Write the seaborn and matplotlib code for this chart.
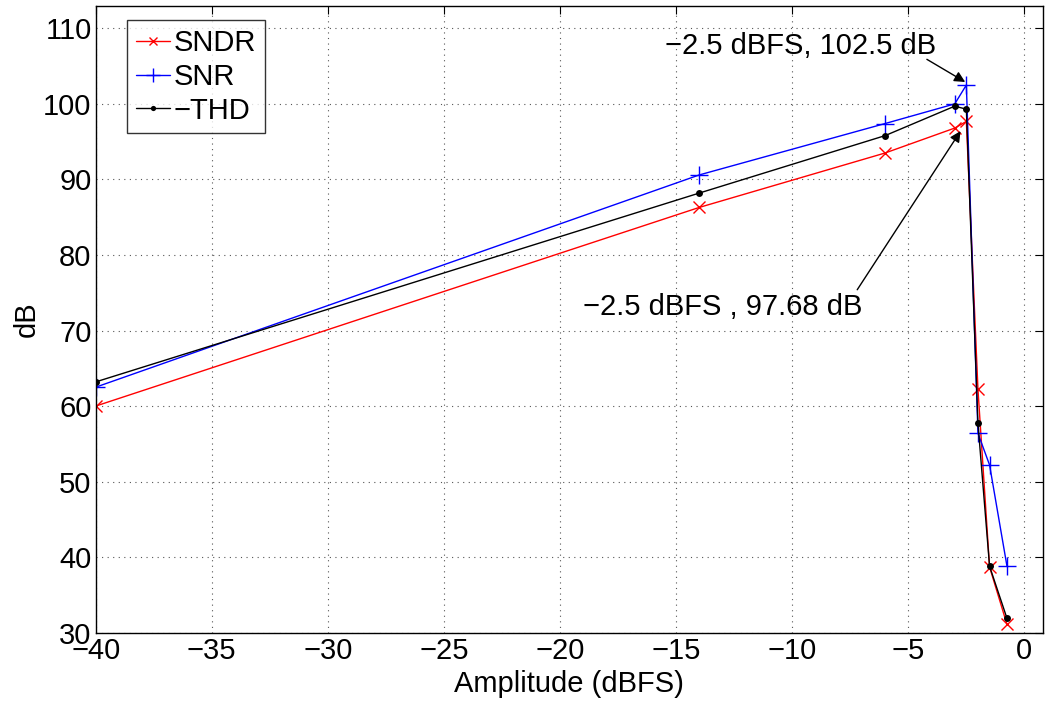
import pandas as pd
import matplotlib
matplotlib.use("Agg")
import matplotlib.pyplot as plt
import seaborn as sns

# Input amplitude (dBFS) and measured values (dB)
amplitude = [-40, -14, -6, -3, -2.5, -2, -1.5, -0.75]
sndr = [60.0, 86.3, 93.5, 96.8, 97.68, 62.2, 38.7, 31.1]
snr = [62.5, 90.6, 97.4, 100.0, 102.5, 56.4, 52.2, 38.8]
neg_thd = [63.2, 88.2, 95.8, 99.7, 99.3, 57.7, 38.8, 31.9]

x_ticks = [-40, -35, -30, -25, -20, -15, -10, -5, 0]
y_ticks = [30, 40, 50, 60, 70, 80, 90, 100, 110]

df = pd.DataFrame({"amp": amplitude, "SNDR": sndr, "SNR": snr, "THD": neg_thd})

sns.set_style("white")
plt.rcParams['font.family'] = ['Liberation Sans', 'DejaVu Sans']
plt.rcParams['text.color'] = 'black'
plt.rcParams['axes.labelcolor'] = 'black'

fig = plt.figure(figsize=(10.48, 7.02), dpi=100)
ax = fig.add_axes([0.0913, 0.0987, 0.9039, 0.8932])

sns.lineplot(data=df, x="amp", y="SNDR", ax=ax, color="red", marker="x",
             markersize=8, markeredgewidth=1, markeredgecolor="red",
             linewidth=1, label="SNDR", sort=False)
sns.lineplot(data=df, x="amp", y="SNR", ax=ax, color="blue", marker="+",
             markersize=13, markeredgewidth=1, markeredgecolor="blue",
             linewidth=1, label="SNR", sort=False)
sns.lineplot(data=df, x="amp", y="THD", ax=ax, color="black", marker="o",
             markersize=5, markeredgewidth=0, markerfacecolor="black",
             linewidth=1, label="\u2212THD", sort=False)

ax.set_xlim(-40, 0.8)
ax.set_ylim(30, 113)
ax.set_xticks(x_ticks)
ax.set_yticks(y_ticks)
ax.tick_params(direction="in", top=True, right=True, length=6, width=0.8,
               labelsize=21, colors="black", pad=3)
ax.grid(True, linestyle=(0, (1, 4)), color="#555555", linewidth=0.8)
for s in ax.spines.values():
    s.set_color("black")
    s.set_linewidth(1)

ax.set_xlabel("Amplitude (dBFS)", fontsize=21, labelpad=4)
ax.set_ylabel("dB", fontsize=21, labelpad=2)

arrow = dict(arrowstyle="-|>", color="black", lw=1, mutation_scale=16,
             shrinkA=0, shrinkB=0)
ax.text(-3.8, 107.6, "\u22122.5 dBFS, 102.5 dB", fontsize=21,
        ha="right", va="center")
ax.annotate("", xy=(-2.55, 102.9), xytext=(-4.2, 105.9), arrowprops=arrow)
ax.text(-13.0, 73.1, "\u22122.5 dBFS , 97.68 dB", fontsize=21,
        ha="center", va="center")
ax.annotate("", xy=(-2.75, 96.4), xytext=(-7.2, 75.4), arrowprops=arrow)

leg = ax.legend(loc="upper left", fontsize=21, handlelength=1.15,
                frameon=True, fancybox=False, borderaxespad=0.5,
                handletextpad=0.15, labelspacing=0.2, borderpad=0.3,
                markerscale=0.75, bbox_to_anchor=(0.018, 1.0))
leg.get_frame().set_edgecolor("black")
leg.get_frame().set_linewidth(1)

fig.savefig("out.png", dpi=100)
